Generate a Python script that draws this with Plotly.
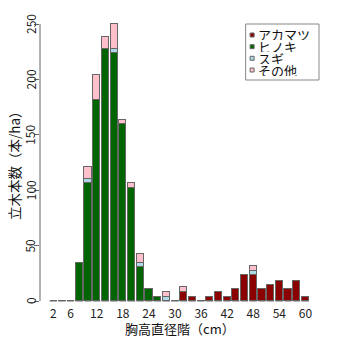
import plotly.graph_objects as go

# Diameter classes (cm) and stand density per class (trees/ha)
diameter = list(range(2, 62, 2))
tick_labels = [2, 6, 12, 18, 24, 30, 36, 42, 48, 54, 60]
species = ["アカマツ", "ヒノキ", "スギ", "その他"]
colors = ["#8b0000", "#006400", "#add8e6", "#ffc0cb"]

akamatsu = [0, 0, 0, 0, 0, 0, 0, 0, 0, 0, 0, 0, 0, 0, 0,
            7.9, 3.9, 0, 3.9, 7.9, 3.9, 10.6, 23.2, 23.2, 10.6, 14.6, 18.3, 10.6, 18.3, 3.9]
hinoki = [0, 0, 0, 34.0, 106.2, 181.4, 227.2, 223.6, 159.5, 101.7, 30.4, 10.6, 3.9, 0, 0,
          0, 0, 0, 0, 0, 0, 0, 0, 0, 0, 0, 0, 0, 0, 0]
sugi = [0, 0, 0, 0, 3.6, 0, 0, 3.6, 0, 0, 3.6, 0, 0, 3.9, 0,
        0, 0, 0, 0, 0, 0, 0, 0, 3.6, 0, 0, 0, 0, 0, 0]
sonota = [0, 0, 0, 0, 10.9, 22.3, 10.8, 22.5, 3.5, 4.5, 8.1, 0, 0, 4.0, 0,
          4.7, 0, 0, 0, 0, 0, 0, 0, 4.5, 0, 0, 0, 0, 0, 0]
y_ticks = [0, 50, 100, 150, 200, 250]

series = [akamatsu, hinoki, sugi, sonota]
bar_w = 2 / 1.2
edge = "#666666"

# plot-area geometry in pixels
L, R, T, B = 40, 321.5, 13, 305
W, H = R - L, B - T


def px(x):
    return (x - L) / W


def py(y):
    return (B - y) / H


fig = go.Figure()
for name, vals, col in zip(species, series, colors):
    fig.add_trace(go.Bar(
        x=diameter, y=vals, name=name, width=bar_w,
        marker=dict(color=col, line=dict(color=edge, width=1)),
    ))

# baseline edge of each bar (visible where a class is empty)
base_x, base_y = [], []
for d in diameter:
    base_x += [d - bar_w / 2, d + bar_w / 2, None]
    base_y += [0, 0, None]
fig.add_trace(go.Scatter(x=base_x, y=base_y, mode="lines",
                         line=dict(color=edge, width=1), hoverinfo="skip"))

shapes = [dict(type="line", xref="paper", yref="y", x0=0, x1=0,
               y0=y_ticks[0], y1=y_ticks[-1], line=dict(color=edge, width=1))]
annotations = []

# vertical y tick labels, set beside the tick marks
for v in y_ticks:
    annotations.append(dict(x=px(30), y=v, xref="paper", yref="y", text=str(v),
                            showarrow=False, textangle=-90, xanchor="center",
                            yanchor="middle", borderpad=0,
                            font=dict(size=12, color="#222")))

# legend box
shapes.append(dict(type="rect", xref="paper", yref="paper",
                   x0=px(246), x1=px(319.5), y0=py(80), y1=py(24),
                   line=dict(color="#888888", width=1), fillcolor="white"))
row_y = [35, 46.7, 58.3, 70]
for name, col, ry in zip(species, colors, row_y):
    shapes.append(dict(type="rect", xref="paper", yref="paper",
                       x0=px(250.5), x1=px(254.5), y0=py(ry + 2), y1=py(ry - 2),
                       line=dict(color=edge, width=1), fillcolor=col))
    annotations.append(dict(x=px(257.5), y=py(ry), xref="paper", yref="paper",
                            text=name, showarrow=False, xanchor="left", yanchor="middle",
                            height=11, borderpad=0, font=dict(size=13, color="#111")))

annotations.append(dict(x=px(180.5), y=py(328), xref="paper", yref="paper",
                        text="胸高直径階（cm）", showarrow=False,
                        xanchor="center", yanchor="middle",
                        font=dict(size=13, color="#111")))
annotations.append(dict(x=px(14), y=py(162), xref="paper", yref="paper",
                        text="立木本数（本/ha）", showarrow=False, textangle=-90,
                        xanchor="center", yanchor="middle", borderpad=0,
                        font=dict(size=13.5, color="#111")))

fig.update_layout(
    width=344, height=344,
    margin=dict(l=L, r=344 - R, t=T, b=344 - B, pad=0),
    barmode="stack", bargap=0,
    plot_bgcolor="white", paper_bgcolor="white",
    showlegend=False,
    font=dict(family="Noto Sans CJK JP", size=12, color="#222"),
    shapes=shapes, annotations=annotations,
)
x_lo = 2 - (53.3 - L) * (2 / 8.71)
x_hi = x_lo + W * (2 / 8.71)
fig.update_xaxes(range=[x_lo, x_hi], tickmode="array", tickvals=tick_labels,
                 ticktext=[str(v) for v in tick_labels], ticks="",
                 showgrid=False, zeroline=False, showline=False)
y_scale = 1.108
fig.update_yaxes(range=[-(B - 301) / y_scale, (301 - T) / y_scale],
                 tickmode="array", tickvals=y_ticks, ticks="outside", ticklen=5,
                 tickcolor=edge, showticklabels=False,
                 showgrid=False, zeroline=False, showline=False)

fig.write_html("out.html")
